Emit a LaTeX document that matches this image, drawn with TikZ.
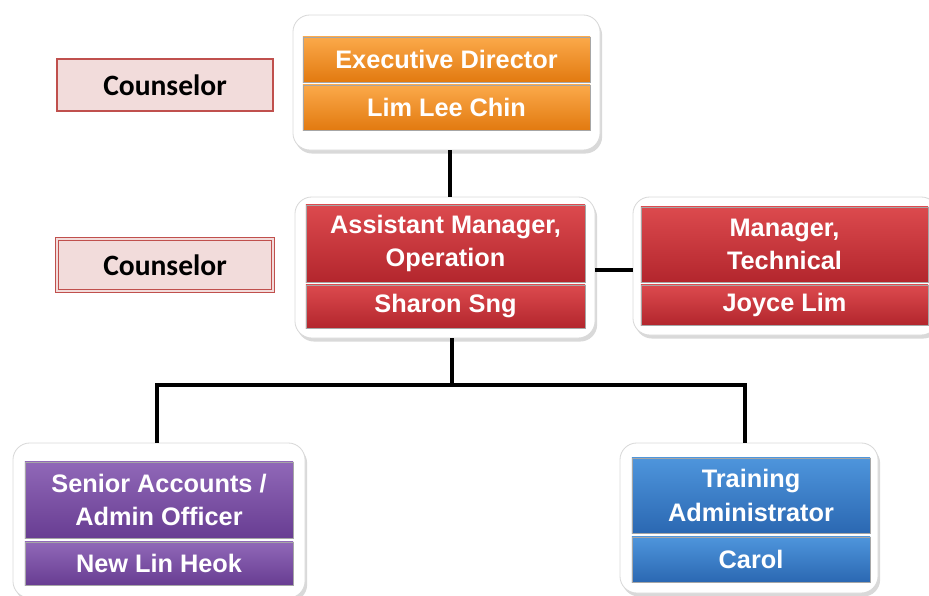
\documentclass[tikz,border=0pt]{standalone}
\usepackage{fontspec}
\setmainfont{Liberation Sans}
\newfontfamily\counselfont{Carlito}
\usetikzlibrary{shadows, positioning}

\definecolor{orangetop}{HTML}{FBA94A}
\definecolor{orangebot}{HTML}{E27A10}
\definecolor{redtop}{HTML}{DC4A4E}
\definecolor{redbot}{HTML}{B3262D}
\definecolor{purpletop}{HTML}{9068B8}
\definecolor{purplebot}{HTML}{683D92}
\definecolor{bluetop}{HTML}{4E95DC}
\definecolor{bluebot}{HTML}{2B68B2}
\definecolor{counselfill}{HTML}{F2DCDB}
\definecolor{counseldraw}{HTML}{C0504D}

\tikzset{
    frame/.style={draw=black!15, fill=white, rounded corners=12pt, line width=0.6pt,
        drop shadow={shadow xshift=1.5pt, shadow yshift=-2.5pt, opacity=0.3}},
    role/.style={draw=black!35, line width=0.4pt, text=white, align=center,
        font=\bfseries\fontsize{18}{24}\selectfont, inner sep=0pt,
        shading=axis, shading angle=0,
        drop shadow={shadow xshift=1pt, shadow yshift=-1pt, opacity=0.25}},
    orange/.style={role, top color=orangetop, bottom color=orangebot},
    red/.style={role, top color=redtop, bottom color=redbot},
    purple/.style={role, top color=purpletop, bottom color=purplebot},
    blue/.style={role, top color=bluetop, bottom color=bluebot},
    counsel/.style={fill=counselfill, draw=counseldraw, minimum width=5.4cm, minimum height=1.3cm,
        font=\counselfont\bfseries\fontsize{21}{24}\selectfont, text=black, inner sep=0pt},
    link/.style={line width=2.2pt, black}
}

\begin{document}
\begin{tikzpicture}[x=0.025cm, y=-0.025cm]
    \useasboundingbox (0, 0) rectangle (929, 596);

    % counselors
    \node[counsel, line width=1.6pt] (couns1) at (165, 85) {Counselor};
    \node[counsel, double=counselfill, double distance=1.2pt, line width=0.5pt] (couns2) at (165, 265) {Counselor};

    % frames
    \node[frame, minimum width=7.675cm, minimum height=3.375cm] (topbox) at (446.5, 82.5) {};
    \node[frame, minimum width=7.5cm, minimum height=3.525cm] (midbox) at (445, 267.5) {};
    \node[frame, minimum width=7.625cm, minimum height=3.45cm] (techbox) at (785.5, 266) {};
    \node[frame, minimum width=7.3cm, minimum height=3.875cm] (acctbox) at (159, 520.5) {};
    \node[frame, minimum width=6.45cm, minimum height=3.75cm] (trainbox) at (749, 518) {};

    % roles
    \node[orange, minimum width=7.175cm, minimum height=1.125cm] (exec) at (446.5, 59.5) {Executive Director};
    \node[orange, minimum width=7.175cm, minimum height=1.125cm] (execname) at (446.5, 107.5) {Lim Lee Chin};
    \node[red, minimum width=6.975cm, minimum height=1.925cm] (asst) at (445.5, 243.5) {Assistant Manager,\\Operation};
    \node[red, minimum width=6.975cm, minimum height=1.075cm] (asstname) at (445.5, 306.5) {Sharon Sng};
    \node[red, minimum width=7.175cm, minimum height=1.875cm] (tech) at (784.5, 244.5) {Manager,\\Technical};
    \node[red, minimum width=7.175cm, minimum height=1.0cm] (techname) at (784.5, 305) {Joyce Lim};
    \node[purple, minimum width=6.7cm, minimum height=1.9cm] (acct) at (159, 500) {Senior Accounts /\\Admin Officer};
    \node[purple, minimum width=6.7cm, minimum height=1.075cm] (acctname) at (159, 563.5) {New Lin Heok};
    \node[blue, minimum width=5.95cm, minimum height=1.875cm] (train) at (751, 495.5) {Training\\Administrator};
    \node[blue, minimum width=5.95cm, minimum height=1.125cm] (trainname) at (751, 559.5) {Carol};

    % lines
    \coordinate (split) at (452, 385);
    \draw[link]
        (topbox.south -| 450, 0) -- (midbox.north -| 450, 0)
        (midbox.east |- 0, 270) -- (techbox.west |- 0, 270)
        (midbox.south -| split) -- (split)
        (acctbox.north -| 157, 0) |- (split) -| (trainbox.north -| 745, 0);
\end{tikzpicture}
\end{document}
